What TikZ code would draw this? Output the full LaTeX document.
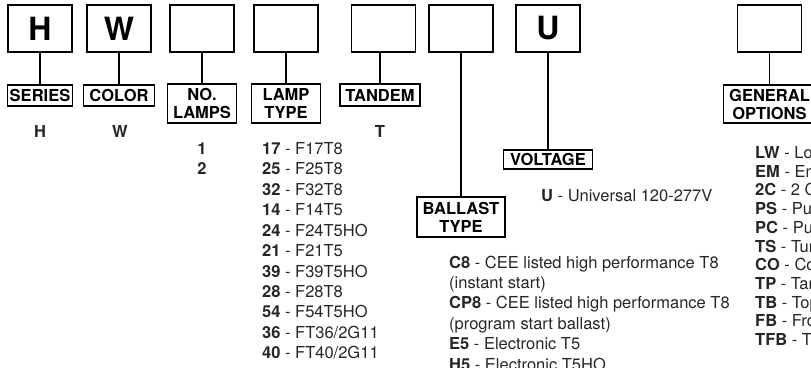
\documentclass[tikz,border=0pt]{standalone}
\usepackage{fontspec}
\setmainfont{TeX Gyre Heros}
\begin{document}
\begin{tikzpicture}[x=1pt,y=-1pt,
  topbox/.style={draw, line width=1.8pt, minimum width=64pt, minimum height=47pt, inner sep=0pt, font=\fontsize{32}{32}\selectfont\bfseries},
  lab/.style={draw, line width=1.8pt, inner sep=0pt, align=center, font=\fontsize{16.5}{18}\selectfont\bfseries},
  conn/.style={line width=1.8pt},
  item/.style={anchor=base west, inner sep=0pt, text=black!85, font=\fontsize{16.5}{18}\selectfont},
  code/.style={anchor=base, inner sep=0pt, text=black!85, font=\fontsize{16.5}{18}\selectfont\bfseries}]
\useasboundingbox (0,0) rectangle (811,367);
\clip (0,0) rectangle (811,367);
% top boxes
\node[topbox] (b1) at (40,28.5) {H};
\node[topbox] (b2) at (119,28.5) {W};
\node[topbox] (b3) at (202,28.5) {};
\node[topbox] (b4) at (286,28.5) {};
\node[topbox] (b5) at (383.5,28.5) {};
\node[topbox] (b6) at (461,28.5) {};
\node[topbox] (b7) at (548,28.5) {U};
\node[topbox] (b8) at (769.5,28.5) {};
% label boxes
\node[lab, minimum width=65, minimum height=21] (series) at (40,95.5) {SERIES};
\node[lab, minimum width=71, minimum height=21] (color) at (119,95.5) {COLOR};
\node[lab, minimum width=69, minimum height=39] (lamps) at (202,103.5) {NO.\\LAMPS};
\node[lab, minimum width=69, minimum height=39] (ltype) at (286,103.5) {LAMP\\TYPE};
\node[lab, minimum width=80, minimum height=22] (tandem) at (380,95) {TANDEM};
\node[lab, minimum width=88, minimum height=40] (ballast) at (461,217) {BALLAST\\TYPE};
\node[lab, minimum width=89, minimum height=19] (voltage) at (548,159.5) {VOLTAGE};
\node[lab, minimum width=92, minimum height=38] (general) at (769.5,104) {GENERAL\\OPTIONS};
% connectors
\draw[conn] (b1.south) -- (series.north);
\draw[conn] (b2.south) -- (color.north);
\draw[conn] (b3.south) -- (lamps.north);
\draw[conn] (b4.south) -- (ltype.north);
\draw[conn] (b5.south -| tandem.north) -- (tandem.north);
\draw[conn] (b6.south) -- (ballast.north);
\draw[conn] (b7.south) -- (voltage.north);
\draw[conn] (b8.south) -- (general.north);
% codes
\node[code] (cH) at (40,137) {H};
\node[code] (cW) at (120,137) {W};
\node[code] (cT) at (380,137) {T};
\node[code] (c1) at (202,154) {1};
\node[code] (c2) at (202,174) {2};
% lamp types
\foreach \t [count=\i from 0] in {
  {\textbf{17} - F17T8},{\textbf{25} - F25T8},{\textbf{32} - F32T8},{\textbf{14} - F14T5},
  {\textbf{24} - F24T5HO},{\textbf{21} - F21T5},{\textbf{39} - F39T5HO},{\textbf{28} - F28T8},
  {\textbf{54} - F54T5HO},{\textbf{36} - FT36/2G11},{\textbf{40} - FT40/2G11}}
  \node[item] (lamp\i) at (262,{154.3+20.45*\i}) {\t};
% voltage
\node[item] (volt) at (541,201) {\textbf{U} - Universal 120-277V};
% ballast
\foreach \t [count=\i from 0] in {
  {\textbf{C8} - CEE listed high performance T8},{(instant start)},
  {\textbf{CP8} - CEE listed high performance T8},{(program start ballast)},
  {\textbf{E5} - Electronic T5},{\textbf{H5} - Electronic T5HO}}
  \node[item] (bal\i) at (449,{268+20.4*\i}) {\t};
% general options
\foreach \t [count=\i from 0] in {
  {\textbf{LW} - Louvered},{\textbf{EM} - Emergency},{\textbf{2C} - 2 Circuit},
  {\textbf{PS} - Pull switch},{\textbf{PC} - Pull chain},{\textbf{TS} - Turret},
  {\textbf{CO} - Cord},{\textbf{TP} - Tandem},{\textbf{TB} - Top},
  {\textbf{FB} - Front},{\textbf{TFB} - Top}}
  \node[item] (opt\i) at (755,{158.5+18.7*\i}) {\t};
\end{tikzpicture}
\end{document}
